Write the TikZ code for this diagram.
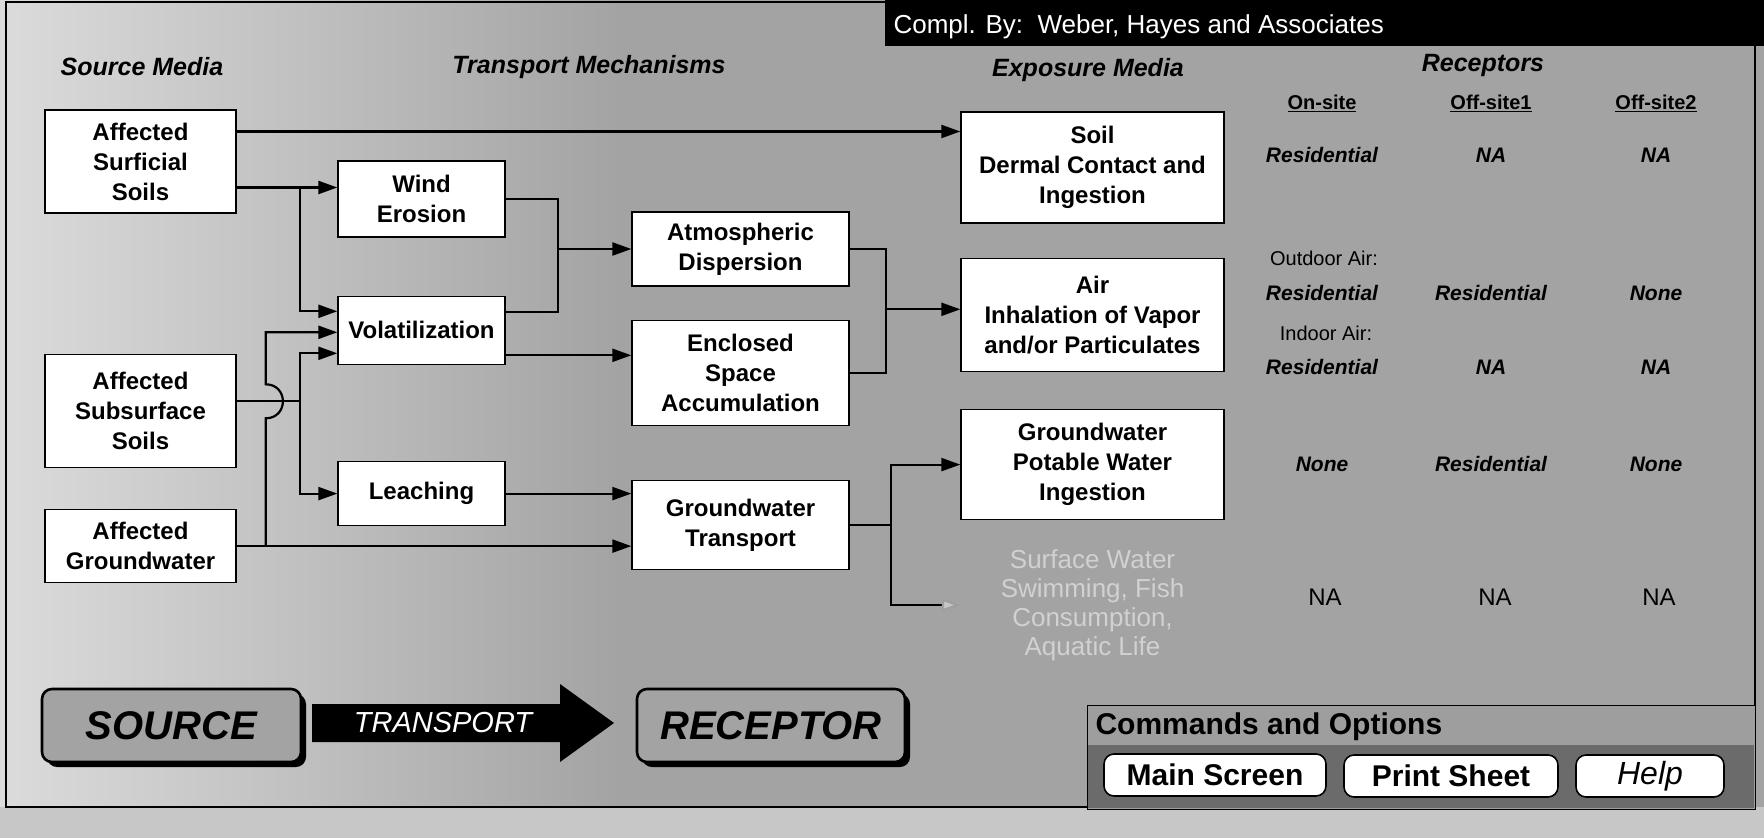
\documentclass[tikz,border=0pt]{standalone}
\usepackage{fontspec}
\setmainfont{Liberation Sans}
\usepackage{tikz}
\usetikzlibrary{arrows.meta,positioning,calc,shadows}

\definecolor{bglight}{gray}{0.86}
\definecolor{bgdark}{gray}{0.64}
\definecolor{bgstrip}{gray}{0.78}
\definecolor{panelgray}{gray}{0.62}
\definecolor{bandgray}{gray}{0.42}
\definecolor{swgray}{gray}{0.82}

\begin{document}
\begin{tikzpicture}[x=1pt, y=-1pt,
  box/.style={draw, line width=1.3pt, fill=white, align=center, inner sep=0pt,
              font=\bfseries\fontsize{24}{30}\selectfont},
  arr/.style={-{Triangle[length=19pt, width=13pt]}, line width=2.2pt},
  wire/.style={line width=2.2pt},
  sechead/.style={font=\bfseries\itshape\fontsize{25}{30}\selectfont},
  colhead/.style={font=\bfseries\fontsize{20}{24}\selectfont},
  cell/.style={font=\bfseries\itshape\fontsize{21}{24}\selectfont},
  plain/.style={font=\fontsize{20}{24}\selectfont},
  bigbox/.style={draw, line width=2.6pt, rounded corners=10pt, fill=bgdark,
                 minimum height=73pt, inner sep=0pt,
                 drop shadow={shadow xshift=5pt, shadow yshift=-5pt, fill=black, opacity=1},
                 font=\bfseries\itshape\fontsize{40}{44}\selectfont},
  button/.style={draw, line width=1.6pt, rounded corners=10pt, fill=white,
                 minimum height=42pt, inner sep=0pt, font=\bfseries\fontsize{30}{34}\selectfont}]
  \useasboundingbox (0,0) rectangle (1764,838);
  \fill[bgdark] (0,0) rectangle (1764,838);
  \shade[left color=bglight, right color=bgdark] (0,0) rectangle (620,807);
  \fill[bgstrip] (0,807) rectangle (1764,838);
  \draw[line width=1.2pt] (6,2) rectangle (1755,807);
  \fill[black] (885,0) rectangle (1764,46);
  \node[anchor=west, text=white, font=\fontsize{26}{28}\selectfont] (compl) at (890,27) {Compl. By:\ \ Weber, Hayes and Associates};

  \node[sechead] (hsrc) at (142,67) {Source Media};
  \node[sechead] (htrans) at (589,67) {Transport Mechanisms};
  \node[sechead] (hexp) at (1088,70) {Exposure Media};
  \node[sechead] (hrec) at (1483,65) {Receptors};

  \node[box, minimum width=191pt, minimum height=103pt] (surf) at (140.5,161.5) {Affected\\Surficial\\Soils};
  \node[box, minimum width=191pt, minimum height=113pt, below=140pt of surf] (subs) {Affected\\Subsurface\\Soils};
  \node[box, minimum width=191pt, minimum height=73pt, below=41pt of subs] (gw) {Affected\\Groundwater};
  \node[box, minimum width=167pt, minimum height=76pt] (wind) at (421.5,199) {Wind\\Erosion};
  \node[box, minimum width=167pt, minimum height=68pt, below=58pt of wind] (vol) {Volatilization};
  \node[box, minimum width=167pt, minimum height=64pt, below=96pt of vol] (leach) {Leaching};
  \node[box, minimum width=217pt, minimum height=74pt] (atm) at (740.5,249) {Atmospheric\\Dispersion};
  \node[box, minimum width=217pt, minimum height=105pt, below=33pt of atm] (encl) {Enclosed\\Space\\Accumulation};
  \node[box, minimum width=217pt, minimum height=89pt, below=54pt of encl] (gwt) {Groundwater\\Transport};
  \node[box, minimum width=263pt, minimum height=111pt] (soil) at (1092.5,167.5) {Soil\\Dermal Contact and\\Ingestion};
  \node[box, minimum width=263pt, minimum height=113pt, below=34pt of soil] (air) {Air\\Inhalation of Vapor\\and/or Particulates};
  \node[box, minimum width=263pt, minimum height=110pt, below=37pt of air] (gwp) {Groundwater\\Potable Water\\Ingestion};
  \node[align=center, inner sep=0pt, minimum width=263pt, text=swgray, font=\fontsize{26}{29}\selectfont] (sw) at (1092.5,605) {Surface Water\\Swimming, Fish\\Consumption,\\Aquatic Life};

  \coordinate (subsOut) at ([yshift=9.5pt]subs.east);
  \coordinate (jS) at ($(subsOut)+(63,0)$);
  \coordinate (jGW) at ($(gw.east)+(29,0)$);
  \coordinate (hopA) at ($(jGW |- subsOut)+(0,17)$);
  \coordinate (hopB) at ($(jGW |- subsOut)+(0,-17)$);
  \coordinate (mAtm) at ($(atm.west)+(-73,0)$);
  \coordinate (mAir) at ($([yshift=5.5pt]air.west)+(-74,0)$);
  \coordinate (mGW) at ($(gwt.east)+(41,0)$);

  \draw[arr] ([yshift=30pt]surf.east) -- ([yshift=30pt]surf.east -| soil.west);
  \draw[arr] ([yshift=-26pt]surf.east) -- ([yshift=-26pt]surf.east -| wind.west);
  \draw[arr] ([yshift=-26pt]surf.east -| jS) |- ([yshift=19pt]vol.west);
  \draw[wire] (subsOut) -- (jS);
  \draw[arr] (jS) |- ([yshift=-23pt]vol.west);
  \draw[arr] (jS) |- (leach.west);
  \draw[arr] (gw.east) -- (gw.east -| gwt.west);
  \draw[arr] (jGW) -- (hopA) .. controls +(23,0) and +(23,0) .. (hopB) |- ([yshift=-2pt]vol.west);
  \draw[wire] (wind.east) -| (mAtm) |- ([yshift=18pt]vol.east);
  \draw[arr] (mAtm) -- (atm.west);
  \draw[arr] ([yshift=-25pt]vol.east) -- ([yshift=-25pt]vol.east -| encl.west);
  \draw[arr] (leach.east) -- (leach.east -| gwt.west);
  \draw[wire] (atm.east) -| (mAir) |- (encl.east);
  \draw[arr] (mAir) -- (mAir -| air.west);
  \draw[wire] (gwt.east) -- (mGW);
  \draw[arr] (mGW) |- (gwp.west);
  \draw[line width=2.2pt, -{Triangle[length=19pt, width=13pt, color=gray!75, fill=gray!45]}] (mGW) |- (sw.west);

  \node[colhead] (onsite) at (1322,103) {\underline{On-site}};
  \node[colhead] (offa) at (1491,103) {\underline{Off-site1}};
  \node[colhead] (offb) at (1656,103) {\underline{Off-site2}};
  \node[cell] (soilon) at (1322,155) {Residential};
  \node[cell] (soiloffa) at (1491,155) {NA};
  \node[cell] (soiloffb) at (1656,155) {NA};
  \node[plain] (outdoor) at (1324,258) {Outdoor Air:};
  \node[cell] (outon) at (1322,293) {Residential};
  \node[cell] (outoffa) at (1491,293) {Residential};
  \node[cell] (outoffb) at (1656,293) {None};
  \node[plain] (indoor) at (1326,333) {Indoor Air:};
  \node[cell] (inon) at (1322,367) {Residential};
  \node[cell] (inoffa) at (1491,367) {NA};
  \node[cell] (inoffb) at (1656,367) {NA};
  \node[cell] (gwon) at (1322,464) {None};
  \node[cell] (gwoffa) at (1491,464) {Residential};
  \node[cell] (gwoffb) at (1656,464) {None};
  \node[plain, font=\fontsize{24}{28}\selectfont] (swon) at (1325,597) {NA};
  \node[plain, font=\fontsize{24}{28}\selectfont] (swoffa) at (1495,597) {NA};
  \node[plain, font=\fontsize{24}{28}\selectfont] (swoffb) at (1659,597) {NA};

  \node[bigbox, minimum width=259pt] (src) at (171.5,725.5) {SOURCE};
  \node[bigbox, minimum width=268pt] (rcp) at (771,725.5) {RECEPTOR};
  \fill (312,704) -- (560,704) -- (560,684) -- (614,723) -- (560,762) -- (560,742) -- (312,742) -- cycle;
  \node[text=white, font=\itshape\fontsize{29}{30}\selectfont] (transp) at (443,723) {TRANSPORT};

  \draw[line width=1pt, fill=panelgray] (1087,705) rectangle (1755,809);
  \fill[bandgray] (1088,745) rectangle (1754,808);
  \node[anchor=west, font=\bfseries\fontsize{30}{34}\selectfont] (cmd) at (1092,727) {Commands and Options};
  \node[button, minimum width=222pt] (mainscr) at (1215,775) {Main Screen};
  \node[button, minimum width=214pt] (prnt) at (1451,776) {Print Sheet};
  \node[button, minimum width=148pt, font=\itshape\fontsize{32}{34}\selectfont] (hlp) at (1650,776) {Help};
\end{tikzpicture}
\end{document}
